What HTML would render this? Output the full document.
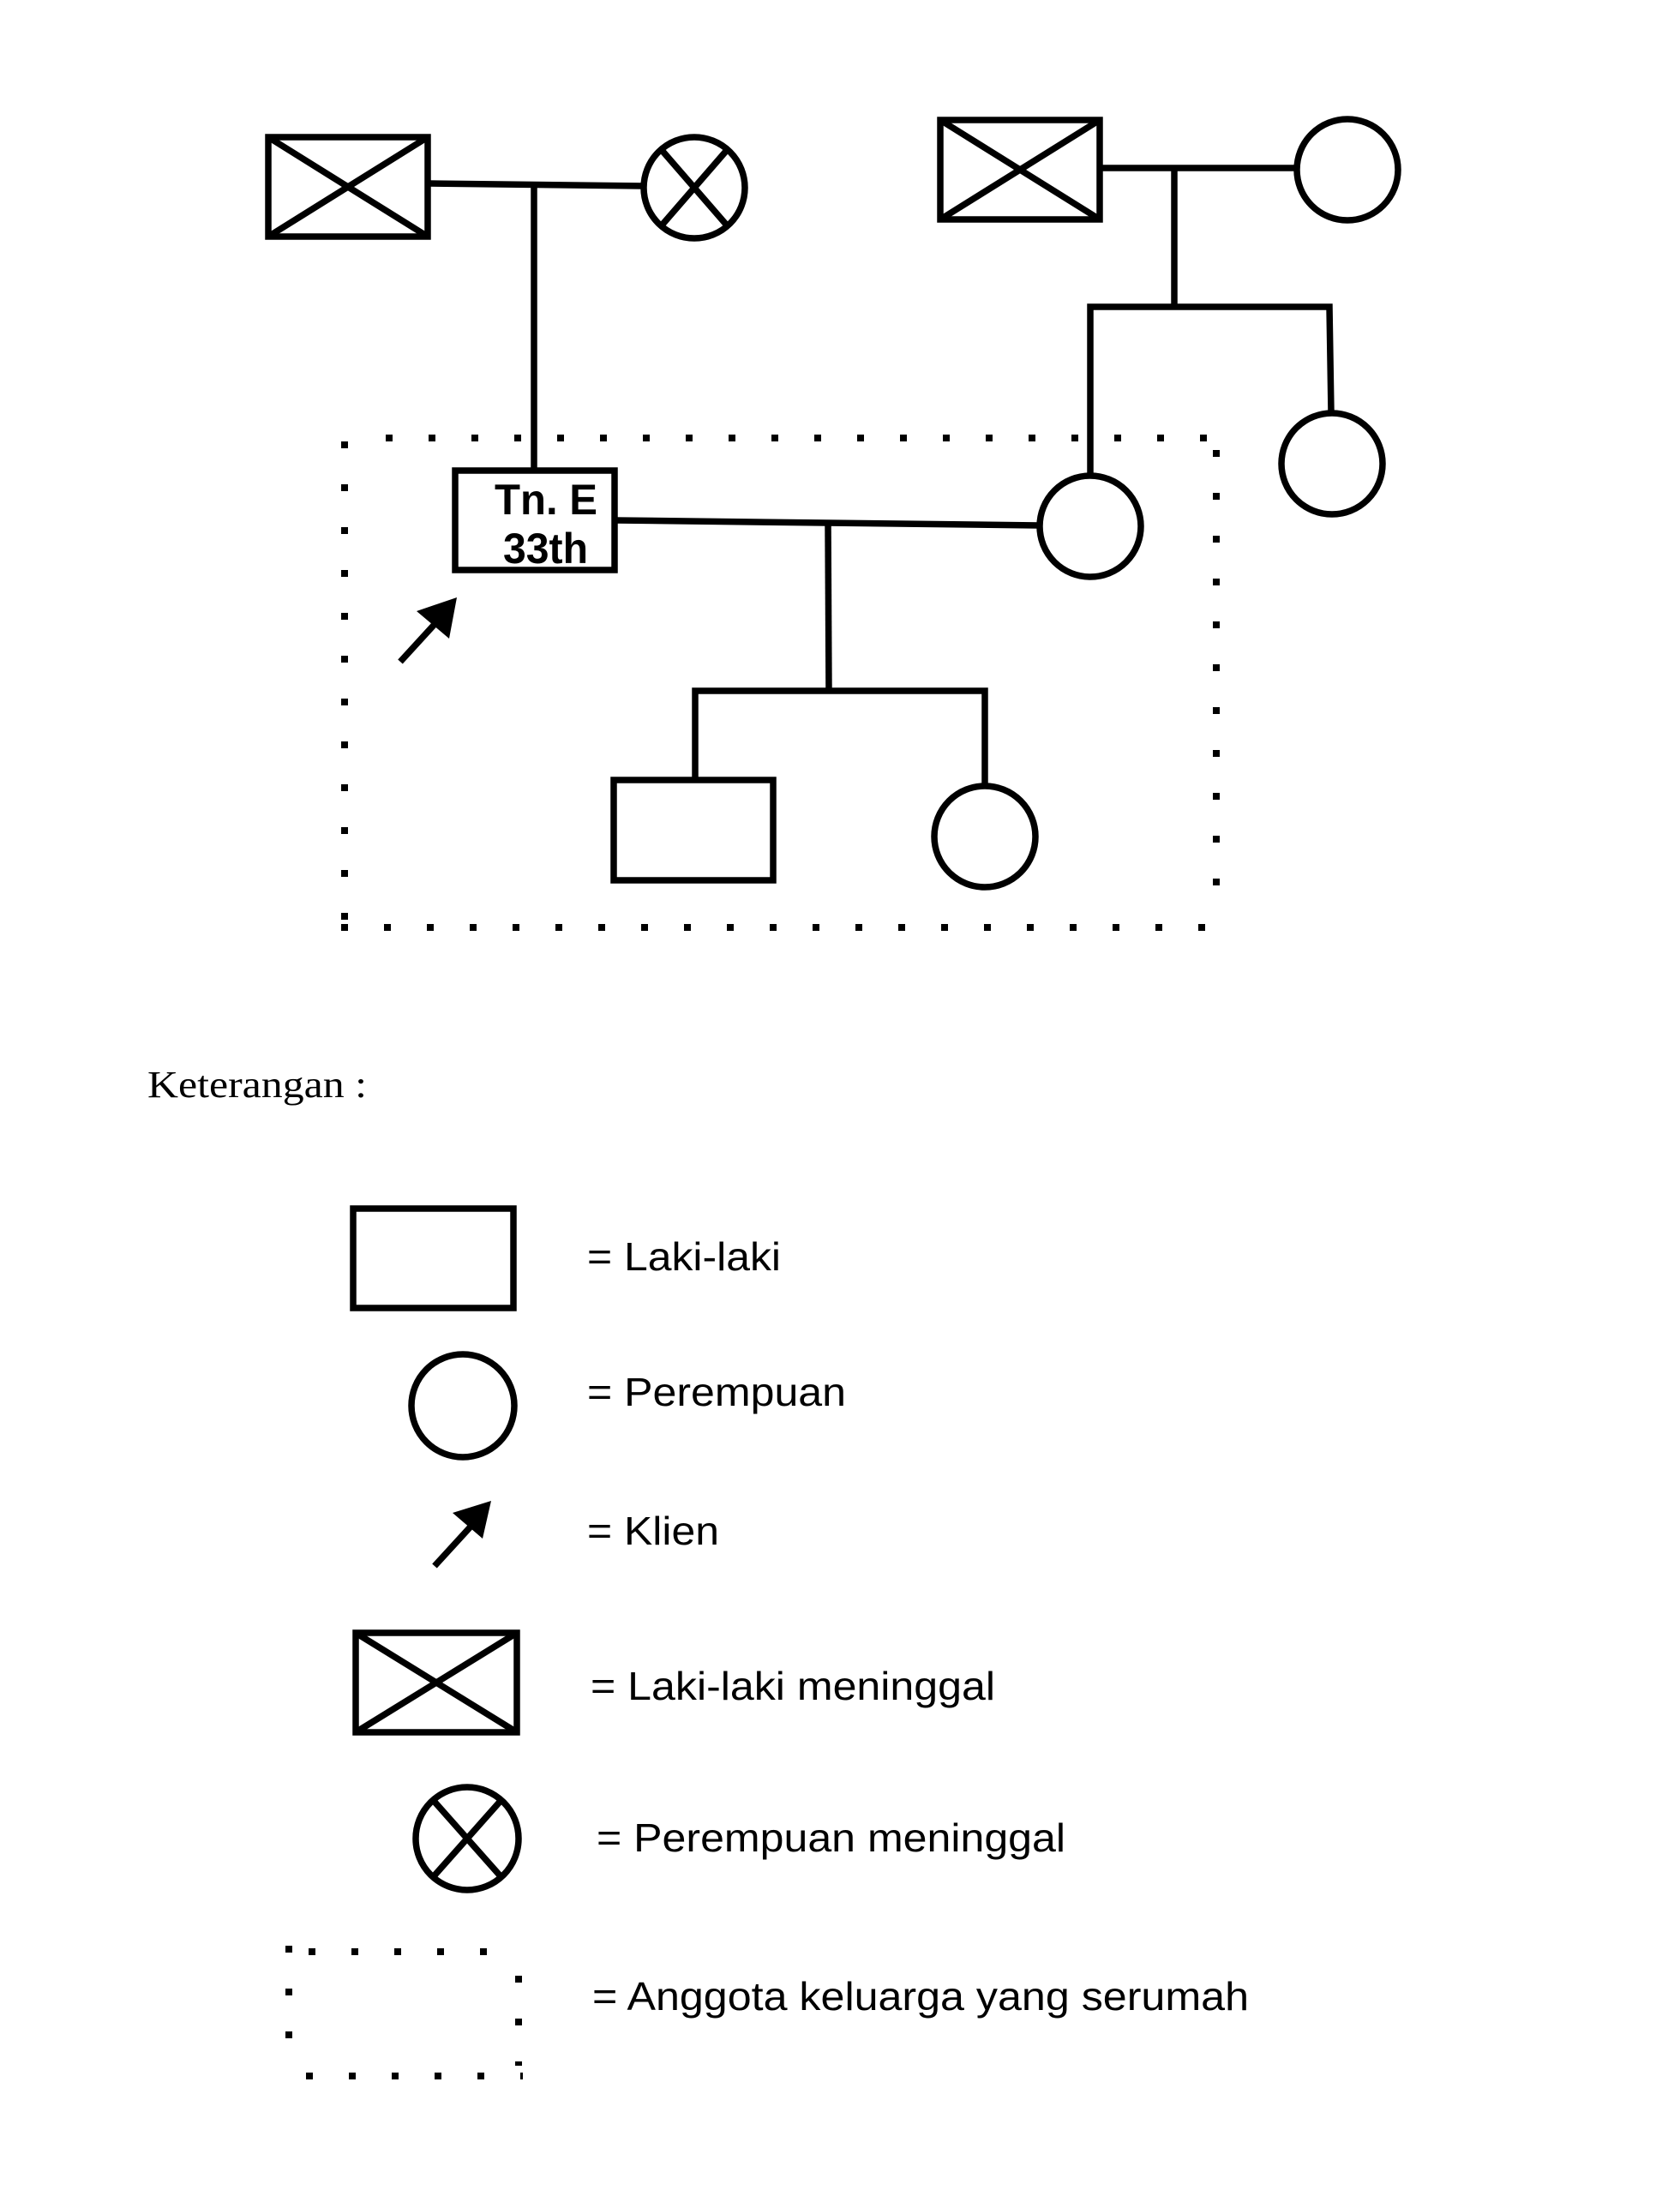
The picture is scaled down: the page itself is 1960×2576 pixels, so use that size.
<!DOCTYPE html>
<html><head><meta charset="utf-8"><style>html,body{margin:0;padding:0;background:#fff}svg{display:block}</style></head>
<body>
<svg width="1960" height="2576" viewBox="0 0 1960 2576" xmlns="http://www.w3.org/2000/svg">
<g fill="none" stroke="#000" stroke-width="7.5">
<rect x="313" y="160" width="186" height="116"/>
<line x1="313" y1="160" x2="499" y2="276"/><line x1="499" y1="160" x2="313" y2="276"/>
<line x1="499" y1="214" x2="751" y2="217"/>
<line x1="623" y1="215" x2="623" y2="548"/>
<circle cx="810" cy="219" r="59"/>
<line x1="771" y1="174" x2="849" y2="264"/><line x1="849" y1="174" x2="771" y2="264"/>
<rect x="1097" y="140" width="186" height="116"/>
<line x1="1097" y1="140" x2="1283" y2="256"/><line x1="1283" y1="140" x2="1097" y2="256"/>
<line x1="1283" y1="196" x2="1514" y2="196"/>
<circle cx="1572" cy="198" r="59"/>
<line x1="1370" y1="196" x2="1370" y2="358"/>
<polyline points="1272,553 1272,358 1551,358 1553,481"/>
<circle cx="1554" cy="541" r="59"/>
<circle cx="1272" cy="614" r="59"/>
<rect x="531" y="549" width="186" height="116"/>
<line x1="717" y1="607" x2="1213" y2="613"/>
<line x1="966" y1="610" x2="967" y2="806"/>
<polyline points="811,910 811,806 1149,806 1149,917"/>
<rect x="716" y="910" width="186" height="117"/>
<circle cx="1149" cy="976" r="59"/>
<line x1="467" y1="772" x2="510" y2="725"/>
<rect x="412" y="1410" width="187" height="116"/>
<circle cx="540" cy="1640" r="60"/>
<line x1="507" y1="1827" x2="550" y2="1780"/>
<rect x="415" y="1905" width="188" height="116"/>
<line x1="415" y1="1905" x2="603" y2="2021"/><line x1="603" y1="1905" x2="415" y2="2021"/>
<circle cx="545" cy="2145" r="60"/>
<line x1="506" y1="2101" x2="584" y2="2189"/><line x1="584" y1="2101" x2="506" y2="2189"/>
</g>
<polygon points="533,697 486,713 524,745" fill="#000"/>
<polygon points="573,1751 528,1765 563,1795" fill="#000"/>
<g stroke="#000" stroke-width="8" fill="none">
<line x1="450" y1="511" x2="1425" y2="511" stroke-dasharray="8 42"/>
<line x1="402" y1="515" x2="402" y2="1074" stroke-dasharray="8 42"/>
<line x1="1419" y1="525" x2="1419" y2="1070" stroke-dasharray="8 42"/>
<line x1="398" y1="1082" x2="1410" y2="1082" stroke-dasharray="8 42"/>
<line x1="360" y1="2277" x2="600" y2="2277" stroke-dasharray="8 42"/>
<line x1="337" y1="2270" x2="337" y2="2400" stroke-dasharray="8 42"/>
<line x1="605" y1="2305" x2="605" y2="2410" stroke-dasharray="8 42"/>
<line x1="357" y1="2422" x2="610" y2="2422" stroke-dasharray="8 42"/>
</g>
<g font-family="Liberation Sans, sans-serif" font-weight="bold" font-size="50" fill="#000">
<text x="577" y="600" textLength="120" lengthAdjust="spacingAndGlyphs">Tn. E</text>
<text x="587" y="657" textLength="99" lengthAdjust="spacingAndGlyphs">33th</text>
</g>
<text x="172" y="1280" font-family="Liberation Serif, serif" font-size="44" textLength="256" lengthAdjust="spacingAndGlyphs">Keterangan :</text>
<g font-family="Liberation Sans, sans-serif" font-size="46" fill="#000">
<text x="685" y="1482" textLength="226" lengthAdjust="spacingAndGlyphs">= Laki-laki</text>
<text x="685" y="1640" textLength="302" lengthAdjust="spacingAndGlyphs">= Perempuan</text>
<text x="685" y="1802" textLength="154" lengthAdjust="spacingAndGlyphs">= Klien</text>
<text x="689" y="1983" textLength="472" lengthAdjust="spacingAndGlyphs">= Laki-laki meninggal</text>
<text x="696" y="2160" textLength="547" lengthAdjust="spacingAndGlyphs">= Perempuan meninggal</text>
<text x="691" y="2345" textLength="766" lengthAdjust="spacingAndGlyphs">= Anggota keluarga yang serumah</text>
</g>
</svg>
</body></html>
